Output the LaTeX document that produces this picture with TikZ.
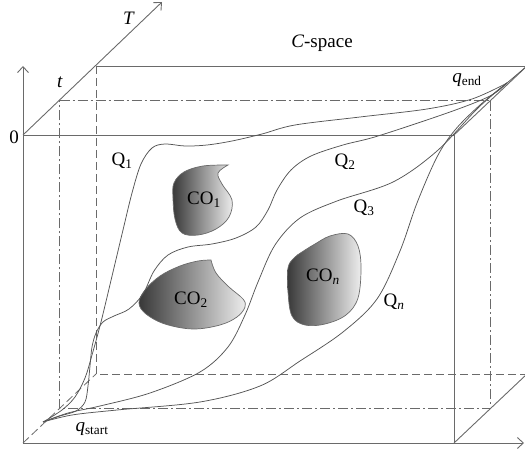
\documentclass[tikz,border=0pt]{standalone}
\usepackage{fontspec}
\setmainfont{Liberation Serif}
\usepackage{tikz}
\usetikzlibrary{arrows.meta}
\definecolor{edge}{HTML}{6A6A6A}
\definecolor{trajc}{HTML}{555555}

\begin{document}
\begin{tikzpicture}[
  x=1pt, y=-1pt,
  font=\fontsize{19}{22}\selectfont,
  frame/.style={draw=edge,line width=0.9pt},
  hidden/.style={draw=edge,line width=0.8pt,dash pattern=on 8pt off 4pt},
  slice/.style={draw=edge,line width=0.8pt,dash pattern=on 10pt off 3pt on 2pt off 3pt},
  axis/.style={frame,-{Straight Barb[length=6pt,width=11pt]}},
  traj/.style={draw=trajc,line width=0.75pt},
  blob/.style={draw=edge,line width=0.7pt,left color=black!78,right color=black!7},
  lab/.style={inner sep=0pt},
]
\useasboundingbox (0,0) rectangle (525,454);

% ---- the box: front face, back face (shifted by 73,-69), slice at t
\coordinate (O)  at (23,135);   \coordinate (A)  at (454,135);
\coordinate (B)  at (454,443);  \coordinate (C)  at (23,443);
\coordinate (Ob) at (96,66);    \coordinate (Ab) at (527,66);
\coordinate (Bb) at (527,374);  \coordinate (Cb) at (96,374);
\coordinate (S1) at (59.5,100.5);  \coordinate (S2) at (490.5,100.5);
\coordinate (S3) at (490.5,408.5); \coordinate (S4) at (59.5,408.5);
\coordinate (ytip) at (23,66);  \coordinate (xtip) at (524,443);
\coordinate (Ttip) at (162,2);

\draw[hidden] (Ob) -- (Cb) -- (Bb);
\draw[hidden] (C) -- (Cb);
\draw[slice] (S1) -- (S2) -- (S3) -- (S4) -- cycle;
\draw[frame] (Ob) -- (Ab);
\draw[frame] (O) -- (A) -- (B);
\draw[frame] (A) -- (Ab);
\draw[frame] (B) -- (Bb);
\draw[axis] (C) -- (ytip);
\draw[axis] (C) -- (xtip);
\draw[axis] (O) -- (Ttip);

\node[lab,anchor=east] (zero) at (19,137) {0};
\node[lab] (Tlab) at (129,18) {\textit{T}};
\node[lab] (tlab) at (60,82) {\textit{t}};
\node[lab] (cspace) at (322,43) {\textit{C}-space};

% ---- obstacles
\path[blob] plot[smooth,tension=0.6] coordinates {(228,165) (218,173) (222,184) (232,200)
  (229,217) (216,229) (198,235) (182,233) (175,219) (173,198) (174,183) (184,172)
  (203,166) (228,165)} -- cycle;
\path[blob] plot[smooth,tension=0.6] coordinates {(211,260) (216,273) (229,287) (243,299)
  (245,307) (237,317) (220,325) (193,329) (165,324) (146,314) (139,303) (145,290)
  (160,276) (180,266) (198,261) (211,260)} -- cycle;
\path[blob] plot[smooth cycle,tension=0.6] coordinates {(348,234) (358,246) (361,268)
  (358,298) (346,315) (325,324) (305,325) (292,316) (288,292) (288,268) (294,258)
  (302,252) (315,244) (330,236)};
\node[lab] (co1) at (204,200) {CO\textsubscript{1}};
\node[lab] (co2) at (191,300) {CO\textsubscript{2}};
\node[lab] (con) at (323,277) {CO\textsubscript{\textit{n}}};

% ---- trajectories
\coordinate (qs) at (43,422);
\coordinate (qe) at (507,83);
\draw[traj] plot[smooth,tension=0.55] coordinates {(qs) (62,410) (75,397) (85,378)
  (92,355) (101,322) (113,272) (123,230) (132,193) (141,164) (152,148) (165,144)
  (185,146) (207,145) (232,141) (262,134) (295,125) (360,117) (427,109) (472,99) (qe)};
\draw[traj] plot[smooth,tension=0.55] coordinates {(qs) (60,416) (76,411) (85,402)
  (88,386) (90,366) (92,347) (96,333) (103,322) (114,316) (129,309) (143,294)
  (154,271) (168,255) (188,247) (212,244) (236,238) (256,227) (268,210) (277,190)
  (291,170) (311,156) (343,145) (378,136) (450,112) (490,96) (qe)};
\draw[traj] plot[smooth,tension=0.55] coordinates {(qs) (68,413) (100,406) (150,393)
  (200,372) (228,347) (245,315) (258,282) (275,245) (300,218) (337,201) (393,182)
  (437,151) (478,108) (qe)};
\draw[traj] plot[smooth,tension=0.55] coordinates {(qs) (72,415) (117,410) (200,402)
  (260,386) (300,361) (343,332) (377,299) (400,251) (417,203) (437,157) (455,130)
  (480,105) (qe)};
\draw[traj] (qe) -- (Ab);

\node[lab] (q1) at (122,161) {Q\textsubscript{1}};
\node[lab] (q2) at (345,162) {Q\textsubscript{2}};
\node[lab] (q3) at (364,208) {Q\textsubscript{3}};
\node[lab] (qn) at (394,302) {Q\textsubscript{\textit{n}}};
\node[lab] (qend) at (467,80) {\textit{q}\textsubscript{end}};
\node[lab] (qstart) at (92,429) {\textit{q}\textsubscript{start}};
\end{tikzpicture}
\end{document}
